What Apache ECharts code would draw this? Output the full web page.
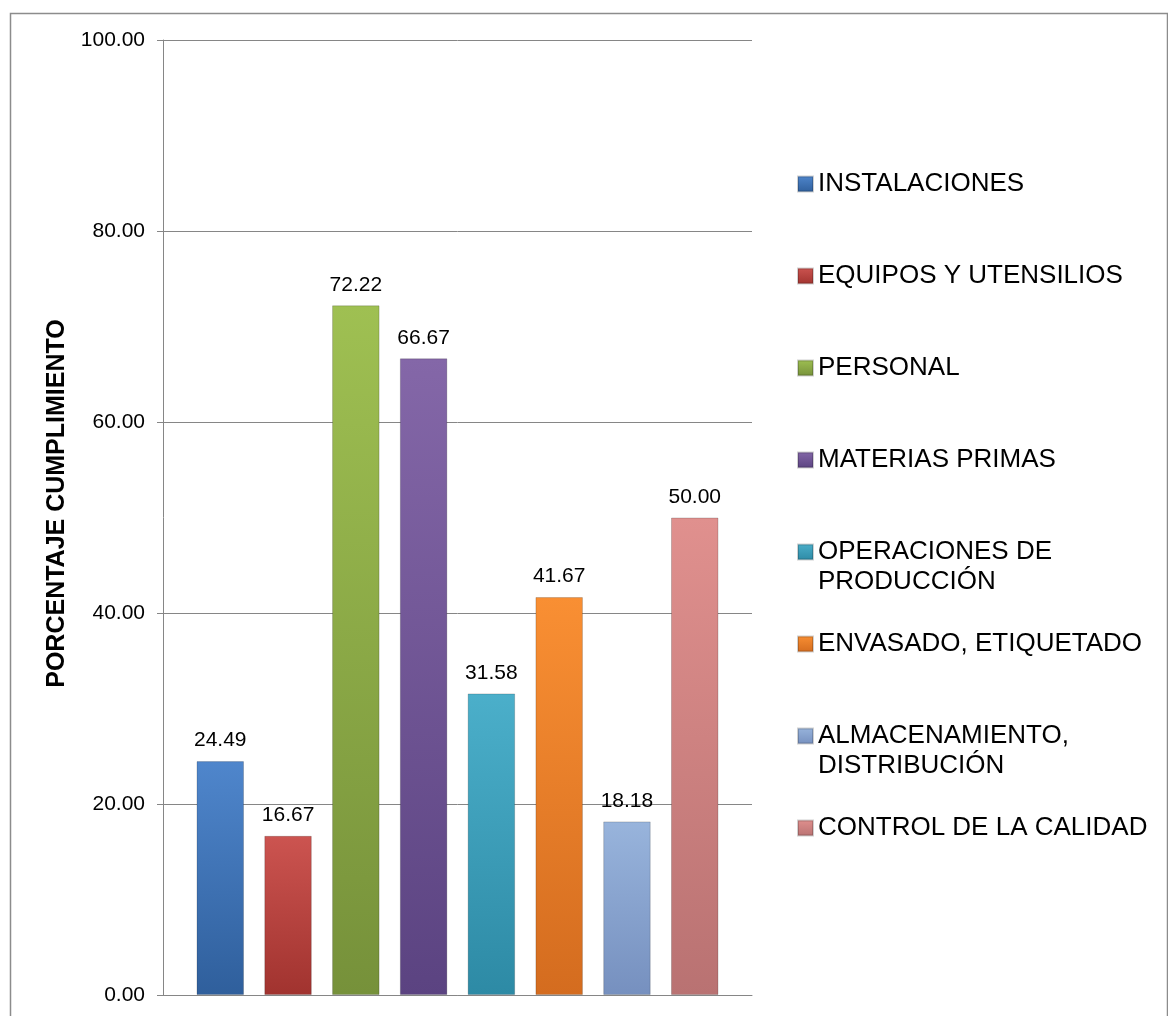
<!DOCTYPE html>
<html>
<head>
<meta charset="utf-8">
<script src="https://cdn.jsdelivr.net/npm/echarts@6/dist/echarts.min.js"></script>
<style>
html,body{margin:0;padding:0;background:#fff;}
#chart{width:1168px;height:1016px;}
</style>
</head>
<body>
<div id="chart"></div>
<script>
const categories = ['INSTALACIONES', 'EQUIPOS Y UTENSILIOS', 'PERSONAL', 'MATERIAS PRIMAS', 'OPERACIONES DE\nPRODUCCIÓN', 'ENVASADO, ETIQUETADO', 'ALMACENAMIENTO,\nDISTRIBUCIÓN', 'CONTROL DE LA CALIDAD'];
const values = [24.49, 16.67, 72.22, 66.67, 31.58, 41.67, 18.18, 50.00];
const yAxisTitle = 'PORCENTAJE CUMPLIMIENTO';
const yMin = 0, yMax = 100, yStep = 20;

const colorsTop = ['#4f86cc', '#cc5450', '#9fc052', '#8467a8', '#4bafca', '#f98f33', '#98b4dc', '#e0908e'];
const colorsBot = ['#2f5f9c', '#a1332f', '#76913a', '#5b4381', '#2d8aa5', '#d46c1f', '#7690bf', '#b97272'];

const FONT = '"Liberation Sans", Arial, sans-serif';

const chart = echarts.init(document.getElementById('chart'), null, {renderer: 'canvas'});

const series = categories.map((name, i) => ({
  type: 'bar',
  name: name,
  data: [values[i]],
  barWidth: 47.5,
  barGap: '42.7%',
  barCategoryGap: '10%',
  itemStyle: {
    color: new echarts.graphic.LinearGradient(0, 0, 0, 1, [
      {offset: 0, color: colorsTop[i]},
      {offset: 1, color: colorsBot[i]}
    ]),
    borderColor: 'rgba(0,0,0,0.18)',
    borderWidth: 1
  },
  label: {
    show: true,
    position: 'top',
    distance: 10,
    formatter: p => Number(p.value).toFixed(2),
    fontSize: 21,
    color: '#000',
    fontFamily: FONT
  }
}));

const option = {
  backgroundColor: '#fff',
  animation: false,
  graphic: [{
    type: 'rect',
    left: 8, top: 11,
    shape: {x: 0, y: 0, width: 1157, height: 1012},
    style: {fill: 'none', stroke: '#8c8c8c', lineWidth: 1.5},
    silent: true, z: -10
  }],
  grid: {left: 163, right: 416, top: 40, bottom: 21, containLabel: false},
  legend: {
    orient: 'vertical',
    left: 797,
    top: 139,
    padding: 0,
    itemWidth: 15,
    itemHeight: 15,
    itemGap: 2,
    icon: 'rect',
    data: categories,
    formatter: name => name.indexOf('\n') >= 0 ? ' \n' + name : ' \n' + name + '\n ',
    textStyle: {fontSize: 26, lineHeight: 30, color: '#000', fontFamily: FONT}
  },
  xAxis: {
    type: 'category',
    data: [''],
    axisLine: {show: true, lineStyle: {color: '#868686', width: 1}},
    axisTick: {show: false},
    axisLabel: {show: false},
    splitLine: {show: false}
  },
  yAxis: {
    type: 'value',
    min: yMin, max: yMax, interval: yStep,
    name: yAxisTitle,
    nameLocation: 'middle',
    nameRotate: 90,
    nameGap: 92,
    nameTextStyle: {fontSize: 25, fontWeight: 'bold', color: '#000', fontFamily: FONT, padding: [0, 0, 0, 28]},
    axisLine: {show: true, lineStyle: {color: '#868686', width: 1}},
    axisTick: {show: true, inside: false, length: 6, lineStyle: {color: '#868686'}},
    axisLabel: {formatter: v => v.toFixed(2), fontSize: 21, color: '#000', margin: 18, fontFamily: FONT},
    splitLine: {show: true, lineStyle: {color: '#868686', width: 1}}
  },
  series: series
};
chart.setOption(option);
</script>
</body>
</html>
